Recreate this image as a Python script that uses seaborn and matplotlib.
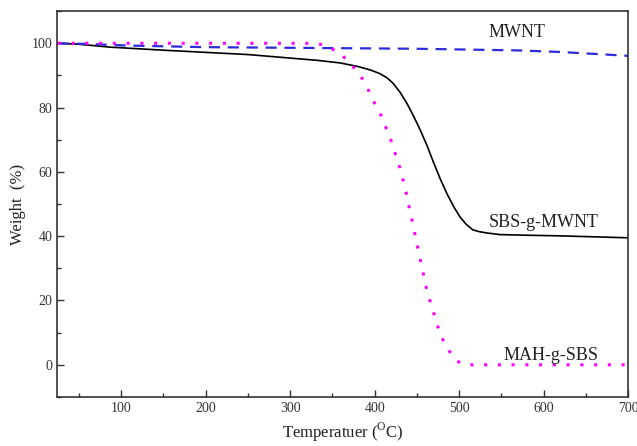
import matplotlib
matplotlib.use("Agg")
import matplotlib.pyplot as plt
import seaborn as sns
from matplotlib.ticker import MultipleLocator

# TGA curves
sbs_temp = [25, 50, 87, 154, 250, 332, 359, 380, 395, 406, 415, 422, 430, 438, 446, 454, 462,
            469, 478, 486, 494, 501, 508, 516, 524, 533, 548, 580, 620, 660, 700]
sbs_weight = [100, 99.7, 98.8, 97.8, 96.5, 94.7, 93.9, 92.8, 91.7, 90.6, 89.2, 87.5, 84.8, 81.4,
              77.4, 73, 68.2, 63.4, 57.6, 53, 49, 46, 43.8, 42, 41.4, 41, 40.5, 40.3, 40.1,
              39.8, 39.5]

mwnt_temp = [25, 60, 107, 200, 350, 450, 568, 620, 687, 700]
mwnt_weight = [100, 99.8, 99.3, 98.8, 98.5, 98.3, 97.8, 97.3, 96.3, 96.1]

mah_temp = [25, 200, 332, 345, 359, 371, 383, 391, 398, 406, 412, 418, 422, 428, 432, 436, 439,
            445, 451, 462, 470, 477, 483, 489, 495, 501, 510, 700]
mah_weight = [100, 100, 100, 98.9, 96.9, 93.8, 90, 86.4, 82.3, 78.6, 74.6, 71, 67.4, 63, 59, 55.4,
              51.3, 44, 36.4, 23, 16, 10, 6.5, 4, 1.8, 0.6, 0, 0]

sns.set_style("ticks")
plt.rcParams['font.family'] = ['Liberation Serif', 'DejaVu Serif']

fig = plt.figure(figsize=(6.37, 4.46), dpi=100)
ax = fig.add_axes([0.0895, 0.110, 0.8965, 0.865])

sns.lineplot(x=sbs_temp, y=sbs_weight, ax=ax, color='black', linewidth=1.2)
sns.lineplot(x=mwnt_temp, y=mwnt_weight, ax=ax, color='#2b2bdc', linewidth=1.6,
             linestyle=(0, (5, 3.5)))
sns.lineplot(x=mah_temp, y=mah_weight, ax=ax, color='#ff00ff', linewidth=2.2,
             linestyle=(0, (1, 3.5)))

ax.set_xlim(24, 700)
ax.set_ylim(-10, 110)
ax.xaxis.set_major_locator(MultipleLocator(100))
ax.xaxis.set_minor_locator(MultipleLocator(50))
ax.yaxis.set_major_locator(MultipleLocator(20))
ax.yaxis.set_minor_locator(MultipleLocator(10))
ax.tick_params(which='both', direction='in', top=False, right=False, labelsize=10, colors='#333333')
ax.tick_params(which='major', length=5, width=1)
ax.tick_params(which='minor', length=3, width=1)
for s in ax.spines.values():
    s.set_linewidth(1.2)
    s.set_color('#333333')

ax.text(535, 102, 'MWNT', fontsize=13, color='#222222')
ax.text(535, 43, 'SBS-g-MWNT', fontsize=13, color='#222222')
ax.text(553, 1.5, 'MAH-g-SBS', fontsize=13, color='#222222')

ax.set_xlabel('Temperatuer ($^{\\mathregular{O}}$C)', fontsize=12, color='#222222')
ax.set_ylabel('Weight  (%)', fontsize=12, color='#222222')

fig.savefig('out.png', dpi=100)
